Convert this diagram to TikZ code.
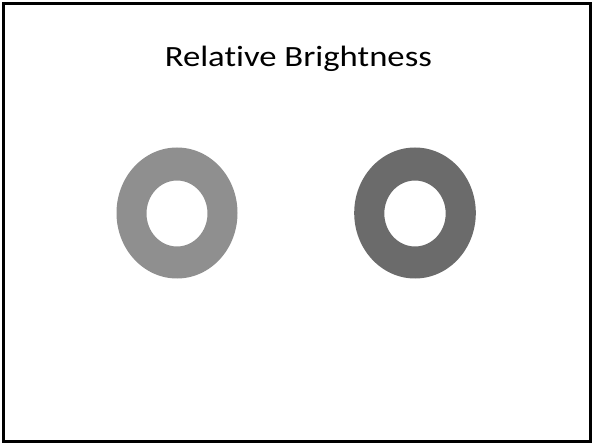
\documentclass[tikz,border=0pt]{standalone}
\usepackage{fontspec}
\setmainfont{Carlito}[Ligatures=NoCommon]
\usepackage{graphicx}
\usepackage{xcolor}
\definecolor{Frame}{HTML}{000000}
\definecolor{RingLight}{HTML}{8F8F8F}
\definecolor{RingDark}{HTML}{6B6B6B}
\tikzset{ring/.style={even odd rule}}
\begin{document}
\begin{tikzpicture}[x=1bp,y=-1bp]
\useasboundingbox (0,0) rectangle (593,444);
\fill[white] (0,0) rectangle (593,444);
\draw[Frame,line width=2.6bp] (3.5,3.5) rectangle (590.5,441.5);
\node[font=\fontsize{29.5}{35}\selectfont,anchor=base,inner sep=0pt] (title) at (298.3,66.7) {\scalebox{1.18}[1]{Relative Brightness}};
\fill[ring,RingLight] (177,213) ellipse [x radius=60.5,y radius=65.5] (177,213.5) ellipse [x radius=30.5,y radius=33];
\fill[ring,RingDark] (415,213) ellipse [x radius=60.8,y radius=65.5] (415,213.5) ellipse [x radius=30.7,y radius=33];
\end{tikzpicture}
\end{document}
